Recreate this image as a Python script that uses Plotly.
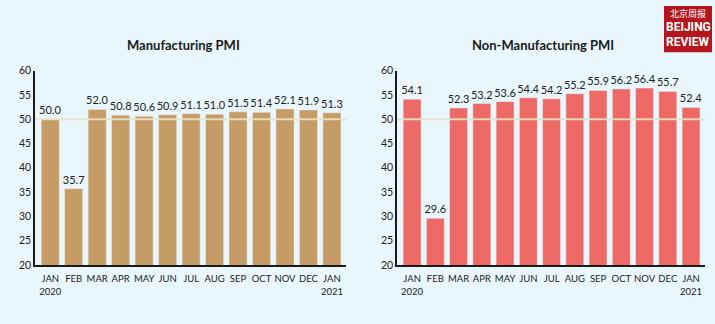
import plotly.graph_objects as go

months = ["JAN<br>2020", "FEB", "MAR", "APR", "MAY", "JUN", "JUL", "AUG", "SEP", "OCT", "NOV", "DEC", "JAN<br>2021"]
manufacturing = [50.0, 35.7, 52.0, 50.8, 50.6, 50.9, 51.1, 51.0, 51.5, 51.4, 52.1, 51.9, 51.3]
non_manufacturing = [54.1, 29.6, 52.3, 53.2, 53.6, 54.4, 54.2, 55.2, 55.9, 56.2, 56.4, 55.7, 52.4]
y_ticks = [20, 25, 30, 35, 40, 45, 50, 55, 60]
titles = ["Manufacturing PMI", "Non-Manufacturing PMI"]

W, H = 715, 324
BG = "#e9f6fc"
FONT = "Lato"

def px(x):
    return x / W

def py(y):
    return 1 - y / H

fig = go.Figure()

x_cats = list(range(len(months)))

for vals, color, xa, ya in ((manufacturing, "#c69c66", "x", "y"), (non_manufacturing, "#ec6966", "x2", "y2")):
    fig.add_trace(go.Bar(x=x_cats, y=vals, marker_color=color, xaxis=xa, yaxis=ya,
                         text=[f"{v:.1f}" for v in vals], textposition="outside",
                         textfont=dict(size=11, color="#222222", family=FONT), cliponaxis=False,
                         constraintext="none", width=0.77, showlegend=False))

ydom = [py(269), py(67)]
common_x = dict(tickmode="array", tickvals=x_cats, ticktext=months, range=[-0.65, 12.6],
                showline=True, linecolor="#1a1a1a", linewidth=1.5, ticks="", showgrid=False,
                zeroline=False, tickfont=dict(size=9.5, color="#222222", family=FONT), ticklabelstandoff=4)
common_y = dict(range=[20, 60], tickvals=y_ticks, showline=True, linecolor="#1a1a1a",
                linewidth=1.5, ticks="", showgrid=False, zeroline=False, domain=ydom,
                tickfont=dict(size=10.5, color="#222222", family=FONT))

fig.update_layout(
    width=W, height=H, margin=dict(l=0, r=0, t=0, b=0),
    paper_bgcolor=BG, plot_bgcolor=BG,
    xaxis=dict(domain=[px(35), px(346)], anchor="y", **common_x),
    yaxis=dict(anchor="x", **common_y),
    xaxis2=dict(domain=[px(397), px(705)], anchor="y2", **common_x),
    yaxis2=dict(anchor="x2", **common_y),
)

# reference line at 50
for xr, yr in (("x", "y"), ("x2", "y2")):
    fig.add_shape(type="line", xref=f"{xr} domain", yref=yr, x0=0, x1=1, y0=50, y1=50,
                  line=dict(color="rgba(232,226,196,0.9)", width=2), layer="above")

# titles
for t, xc in zip(titles, (183, 543)):
    fig.add_annotation(text=f"<b>{t}</b>", x=px(xc), y=py(40), xref="paper", yref="paper",
                       showarrow=False, font=dict(size=13, color="#1a1a1a", family=FONT),
                       xanchor="center", yanchor="middle")

# logo
fig.add_shape(type="rect", xref="paper", yref="paper", x0=px(664), x1=px(712), y0=py(48), y1=py(0),
              fillcolor="#b5161d", line=dict(width=0), layer="above")
fig.add_annotation(text="北京周报", x=px(688), y=py(8), xref="paper", yref="paper", showarrow=False,
                   font=dict(size=9, color="white", family="Noto Sans CJK SC"), xanchor="center", yanchor="middle")
fig.add_annotation(text="<b>BEIJING</b>", x=px(688), y=py(22), xref="paper", yref="paper", showarrow=False,
                   font=dict(size=12, color="white", family="Roboto"), xanchor="center", yanchor="middle")
fig.add_annotation(text="<b>REVIEW</b>", x=px(688), y=py(37), xref="paper", yref="paper", showarrow=False,
                   font=dict(size=12, color="white", family="Roboto"), xanchor="center", yanchor="middle")

fig.write_html("out.html")
